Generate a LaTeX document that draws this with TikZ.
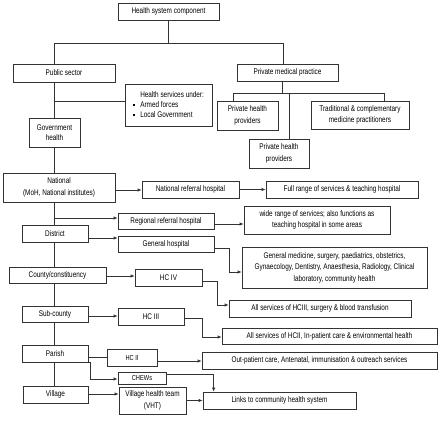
\documentclass[tikz,border=0pt]{standalone}
\usepackage{fontspec}
\setmainfont{Liberation Sans}[FakeStretch=0.78]
\usetikzlibrary{calc}
\usetikzlibrary{arrows.meta}

\begin{document}
\begin{tikzpicture}[x=1pt,y=-1pt,
    box/.style={draw=black!80,line width=0.7pt,inner sep=1pt,align=center,
        font=\fontsize{8.2}{11.5}\selectfont},
    sz/.style 2 args={minimum width=#1pt,minimum height=#2pt},
    small/.style={font=\fontsize{7.3}{8}\selectfont,line width=1pt},
    conn/.style={draw=black!80,line width=0.7pt},
    arr/.style={conn,-{Latex[length=4pt,width=3.5pt]}}]
            \useasboundingbox (0,0) rectangle (440,421);

            \node[box,sz={101}{17}] (hsc) at (168.5,11.5) {Health system component};
            \node[box,sz={102}{18}] (pub) at (64,73) {Public sector};
            \node[box,sz={101}{17}] (priv) at (287.5,72.5) {Private medical practice};
            \node[box,sz={87}{42}] (hsu) at (168.5,105) {%
                \begin{tabular}{@{}l@{\hspace{5pt}}l@{}}
                 & Health services under:\\[-1.5pt]
                \rule[1pt]{2.2pt}{2.2pt} & Armed forces\\[-1.5pt]
                \rule[1pt]{2.2pt}{2.2pt} & Local Government
                \end{tabular}};
            \node[box,sz={51}{29},font=\fontsize{8.2}{10.5}\selectfont] (gov) at (54.5,132.5) {Government\\health};
            \node[box,sz={61}{29}] (php1) at (247.5,115.5) {Private health\\providers};
            \node[box,sz={98}{28}] (trad) at (360,115) {Traditional \& complementary\\medicine practitioners};
            \node[box,sz={60}{29}] (php2) at (279,153.5) {Private health\\providers};

            \node[box,sz={112}{29},font=\fontsize{8.2}{12.5}\selectfont] (nat) at (59,187.5) {National\\(MoH, National institutes)};
            \node[box,sz={97}{17}] (nrh) at (190.5,189.5) {National referral hospital};
            \node[box,sz={152}{17}] (full) at (342,189.5) {Full range of services \& teaching hospital};
            \node[box,sz={96}{16}] (rrh) at (166,221) {Regional referral hospital};
            \node[box,sz={146}{28}] (wide) at (317,220) {wide range of services; also functions as\\teaching hospital in some areas};
            \node[box,sz={66}{17}] (dist) at (55,233.5) {District};
            \node[box,sz={96}{16}] (gen) at (166,244) {General hospital};
            \node[box,sz={185}{41}] (genmed) at (334.5,267.5) {General medicine, surgery, paediatrics, obstetrics,\\Gynaecology, Dentistry, Anaesthesia, Radiology, Clinical\\laboratory, community health};
            \node[box,sz={97}{16}] (county) at (57.5,275) {County/constituency};
            \node[box,sz={67}{17}] (hc4) at (168.5,277.5) {HC IV};
            \node[box,sz={182}{17}] (hc3s) at (320,308.5) {All services of HCIII, surgery \& blood transfusion};
            \node[box,sz={66}{16}] (sub) at (55,314) {Sub-county};
            \node[box,sz={66}{17}] (hc3) at (151,316.5) {HC III};
            \node[box,sz={215}{16}] (hc2s) at (329.5,336) {All services of HCII, In-patient care \& environmental health};
            \node[box,sz={66}{17}] (parish) at (55,353.5) {Parish};
            \node[box,sz={50}{17},small] (hc2) at (132,357.5) {HC II};
            \node[box,sz={235}{17}] (out) at (319.5,360.5) {Out-patient care, Antenatal, immunisation \& outreach services};
            \node[box,sz={48}{12},small] (chews) at (142,378) {CHEWs};
            \node[box,sz={65}{17}] (village) at (55.5,394.5) {Village};
            \node[box,sz={67}{27}] (vht) at (152.5,400.5) {Village health team\\(VHT)};
            \node[box,sz={153}{17}] (links) at (279.5,400.5) {Links to community health system};

            % tree at the top
            \coordinate (split) at (168.5,43);
            \coordinate (pubtop) at (54,43);
            \coordinate (privtop) at (283,43);
            \draw[conn] (hsc.south) -- (split);
            \draw[conn] (pubtop) -- (privtop);
            \draw[conn] (pubtop) -- (pubtop |- pub.north);
            \draw[conn] (privtop) -- (privtop |- priv.north);

            \coordinate (prsplit) at (282,93);
            \coordinate (prleft) at (233,93);
            \coordinate (prright) at (384,93);
            \coordinate (prmid) at (289,93);
            \draw[conn] (prsplit |- priv.south) -- (prsplit);
            \draw[conn] (prleft) -- (prright);
            \draw[conn] (prleft) -- (prleft |- php1.north);
            \draw[conn] (prright) -- (prright |- trad.north);
            \draw[conn] (prmid) -- (prmid |- php2.north);

            % public trunk
            \coordinate (tr) at (54,0);
            \coordinate (hsub) at (54,101);
            \coordinate (rrhb) at (54,218);
            \draw[conn] (tr |- pub.south) -- (tr |- gov.north);
            \draw[conn] (hsub) -- ($(hsu.west)+(0,-4)$);
            \draw[conn] (tr |- gov.south) -- (tr |- nat.north);
            \draw[conn] (tr |- nat.south) -- (tr |- dist.north);
            \draw[conn] (tr |- dist.south) -- (tr |- county.north);
            \draw[conn] (tr |- county.south) -- (tr |- sub.north);
            \draw[conn] (tr |- sub.south) -- (tr |- parish.north);
            \draw[conn] (tr |- parish.south) -- (tr |- village.north);

            % levels
            \draw[arr] ($(nat.east)+(0,2.5)$) -- ($(nrh.west)+(0,0.5)$);
            \draw[arr] (nrh.east) -- (full.west);
            \draw[arr] (rrhb) -- ($(rrh.west)+(0,-3)$);
            \draw[arr] ($(rrh.east)+(0,3)$) -- ($(wide.west)+(0,4)$);
            \draw[arr] ($(dist.east)+(0,4.5)$) -- ($(gen.west)+(0,-6)$);
            \draw[arr] ($(gen.east)+(0,4)$) -- (229,248) |- ($(genmed.west)+(0,4.5)$);
            \draw[arr] ($(county.east)+(0,1)$) -- ($(hc4.west)+(0,-1.5)$);
            \draw[arr] ($(hc4.east)+(0,3.5)$) -- (217,281) |- ($(hc3s.west)+(0,-3.5)$);
            \draw[arr] ($(sub.east)+(0,2)$) -- ($(hc3.west)+(0,-0.5)$);
            \draw[arr] ($(hc3.east)+(0,1.5)$) -- (202,318) |- ($(hc2s.west)+(0,1)$);
            \draw[conn] ($(parish.east)+(0,3.5)$) -- ($(hc2.west)+(0,-0.5)$);
            \draw[arr] ($(hc2.east)+(0,3.5)$) -- ($(out.west)+(0,0.5)$);
            \draw[arr] ($(parish.south)+(8,0)$) -- ($(parish.south east)+(2,0)$) |- ($(chews.west)+(0,1)$);
            \draw[arr] ($(chews.east)+(0,-4)$) -| ($(links.north west)+(11,0)$);
            \draw[arr] ($(village.east)+(0,-0.5)$) -- ($(vht.west)+(0,-6.5)$);
            \draw[arr] (vht.east) -- (links.west);
        \end{tikzpicture}
\end{document}
